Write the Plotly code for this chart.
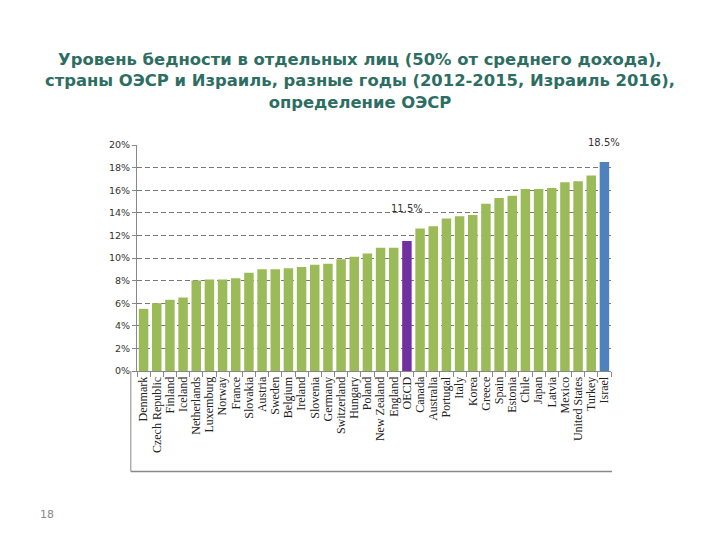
import plotly.graph_objects as go

countries = ["Denmark", "Czech Republic", "Finland", "Iceland", "Netherlands", "Luxemburg",
             "Norway", "France", "Slovakia", "Austria", "Sweden", "Belgium", "Ireland",
             "Slovenia", "Germany", "Switzerland", "Hungary", "Poland", "New Zealand",
             "England", "OECD", "Canada", "Australia", "Portugal", "Italy", "Korea",
             "Greece", "Spain", "Estonia", "Chile", "Japan", "Latvia", "Mexico",
             "United States", "Turkey", "Israel"]
poverty = [5.5, 6.0, 6.3, 6.5, 8.0, 8.1, 8.1, 8.2, 8.7, 9.0, 9.0, 9.1, 9.2, 9.4, 9.5,
           9.9, 10.1, 10.4, 10.9, 10.9, 11.5, 12.6, 12.8, 13.5, 13.7, 13.8, 14.8, 15.3,
           15.5, 16.1, 16.1, 16.2, 16.7, 16.8, 17.3, 18.5]
y_ticks = [0, 2, 4, 6, 8, 10, 12, 14, 16, 18, 20]
y_tick_labels = [f"{v}%" for v in y_ticks]
title_lines = ["Уровень бедности в отдельных лиц (50% от среднего дохода),",
               "страны ОЭСР и Израиль, разные годы (2012-2015, Израиль 2016),",
               "определение ОЭСР"]

GREEN = "#9BBB59"
PURPLE = "#7030A0"
BLUE = "#4F81BD"
colors = [PURPLE if c == "OECD" else BLUE if c == "Israel" else GREEN for c in countries]

fig = go.Figure(go.Bar(x=countries, y=poverty, marker=dict(color=colors, line=dict(width=0)),
                       hoverinfo="x+y"))

fig.update_layout(
    width=712, height=532,
    paper_bgcolor="white", plot_bgcolor="white",
    margin=dict(l=129, r=109, t=137, b=169),
    bargap=0.28,
    showlegend=False,
    font=dict(family="DejaVu Sans", color="#333"),
    xaxis=dict(
        type="category", range=[-0.5, len(countries) - 0.5], tickangle=-90,
        tickson="boundaries",
        tickmode="array", tickvals=countries, ticktext=countries,
        ticks="outside", ticklen=5, tickcolor="#888",
        showline=True, linecolor="#888", linewidth=1,
        tickfont=dict(family="Liberation Serif", size=12, color="#222"),
        showgrid=False,
    ),
    yaxis=dict(
        range=[0, 20], tickvals=y_ticks, ticktext=y_tick_labels,
        ticks="outside", ticklen=4, tickcolor="#888",
        showline=True, linecolor="#888", linewidth=1,
        showgrid=True, gridcolor="#777", griddash="5px,3px", gridwidth=1,
        tickfont=dict(family="DejaVu Sans", size=9.5, color="#333"),
        zeroline=False,
    ),
)

fig.add_annotation(x=0.47, y=1.283, xref="paper", yref="paper", xanchor="center",
                   yanchor="middle", align="center",
                   text="<b>" + "<br>".join(title_lines) + "</b>", showarrow=False,
                   font=dict(family="DejaVu Sans", size=16.4, color="#2E6E62"))

for name, lab_y in (("OECD", 13.75), ("Israel", 19.6)):
    v = poverty[countries.index(name)]
    fig.add_annotation(x=name, y=lab_y, xref="x", yref="y", yanchor="bottom",
                       text=f"{v}%", showarrow=False,
                       font=dict(family="DejaVu Sans", size=10, color="#333"))

# outer frame fragments (left and bottom)
fig.add_shape(type="line", xref="paper", yref="paper", x0=-0.013, x1=-0.013, y0=0.0, y1=-0.445,
              line=dict(color="#888", width=1))
fig.add_shape(type="line", xref="paper", yref="paper", x0=-0.013, x1=1.002, y0=-0.445, y1=-0.445,
              line=dict(color="#888", width=1.5))

fig.add_annotation(x=-0.19, y=-0.637, xref="paper", yref="paper", xanchor="center",
                   yanchor="middle", text="18", showarrow=False,
                   font=dict(family="DejaVu Sans", size=11, color="#888"))

fig.write_html("out.html")
